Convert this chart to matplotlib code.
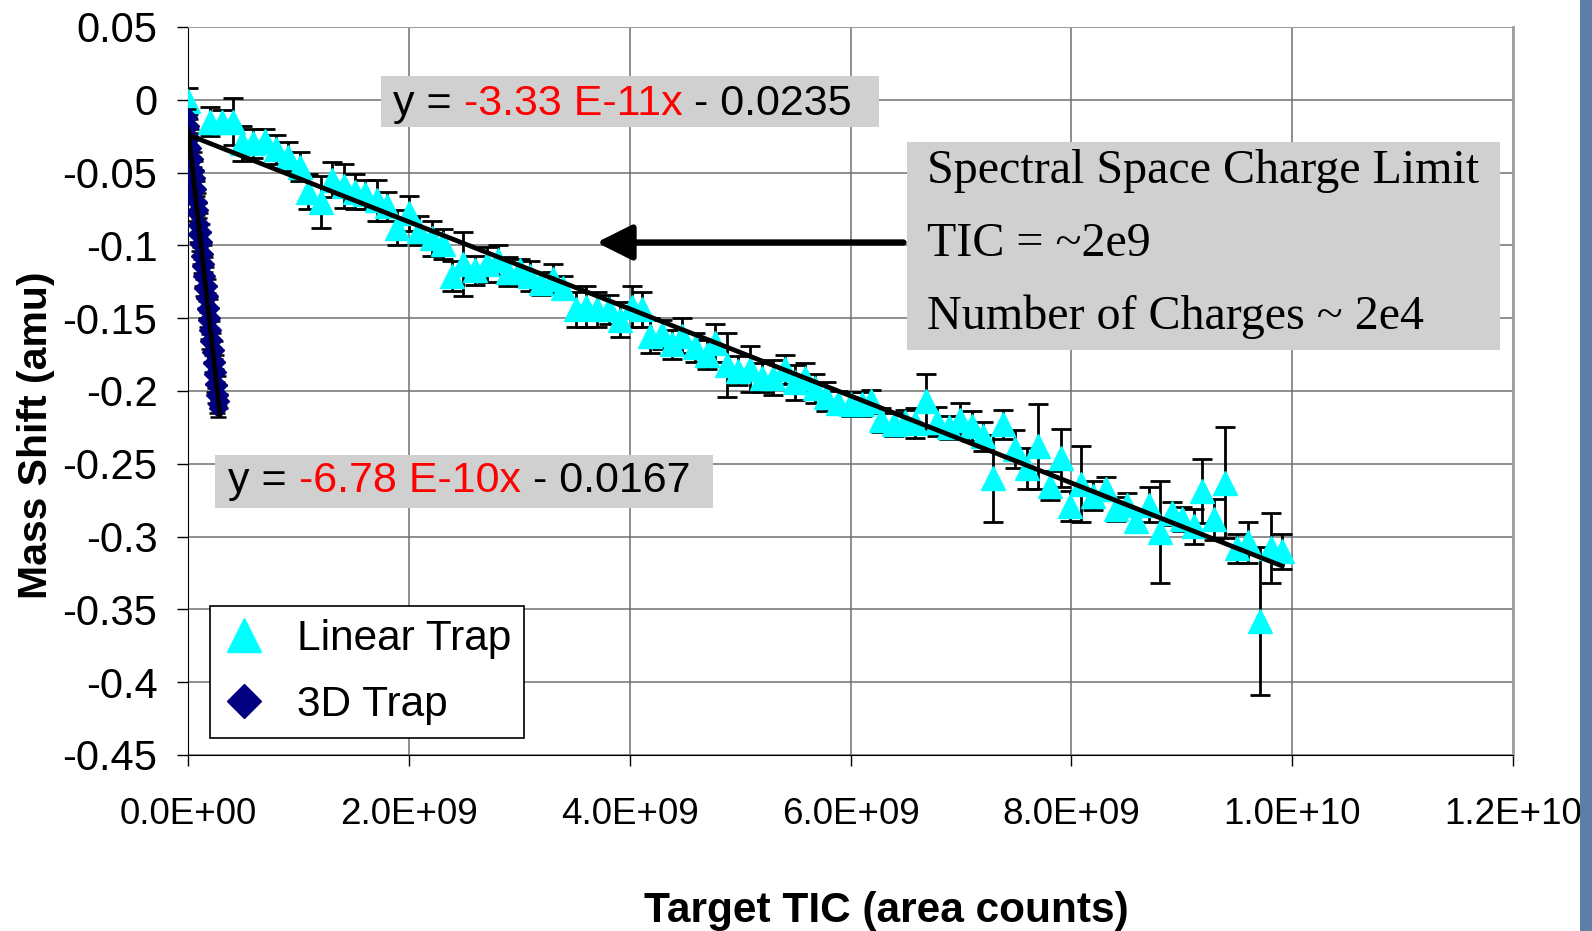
import numpy as np
import matplotlib
matplotlib.use("Agg")
import matplotlib.pyplot as plt
from matplotlib.patches import Rectangle
from matplotlib.lines import Line2D
from matplotlib.ticker import FuncFormatter, MultipleLocator

plt.rcParams['font.family'] = ['Liberation Sans', 'DejaVu Sans']

# Linear trap: TIC (units of 1e9), mass shift (amu), error bar half-width
lin_tic = [0.00, 0.20, 0.31, 0.41, 0.49, 0.59, 0.70, 0.80, 0.91, 1.01,
           1.09, 1.20, 1.30, 1.41, 1.51, 1.60, 1.71, 1.80, 1.89, 2.00,
           2.09, 2.21, 2.31, 2.39, 2.49, 2.60, 2.71, 2.81, 2.90, 3.01,
           3.10, 3.20, 3.31, 3.40, 3.51, 3.60, 3.70, 3.81, 3.91, 4.02,
           4.11, 4.18, 4.29, 4.38, 4.47, 4.59, 4.70, 4.77, 4.88, 4.98,
           5.09, 5.20, 5.30, 5.41, 5.50, 5.59, 5.68, 5.78, 5.89, 6.00,
           6.10, 6.19, 6.28, 6.39, 6.49, 6.58, 6.68, 6.78, 6.89, 6.99,
           7.10, 7.20, 7.29, 7.38, 7.49, 7.60, 7.70, 7.81, 7.91, 7.99,
           8.09, 8.20, 8.31, 8.40, 8.50, 8.59, 8.70, 8.80, 8.91, 9.00,
           9.11, 9.18, 9.29, 9.39, 9.50, 9.60, 9.71, 9.81, 9.91]
lin_shift = [-0.001, -0.015, -0.015, -0.015, -0.030, -0.030, -0.028, -0.034, -0.039, -0.046,
             -0.063, -0.070, -0.055, -0.059, -0.063, -0.065, -0.069, -0.073, -0.088, -0.078,
             -0.090, -0.095, -0.099, -0.121, -0.113, -0.117, -0.113, -0.110, -0.118, -0.117,
             -0.121, -0.126, -0.123, -0.129, -0.144, -0.142, -0.144, -0.144, -0.151, -0.142,
             -0.144, -0.162, -0.161, -0.168, -0.162, -0.170, -0.175, -0.167, -0.182, -0.186,
             -0.185, -0.191, -0.191, -0.185, -0.194, -0.191, -0.198, -0.204, -0.208, -0.209,
             -0.209, -0.207, -0.220, -0.223, -0.221, -0.222, -0.207, -0.221, -0.225, -0.220,
             -0.224, -0.231, -0.260, -0.223, -0.240, -0.253, -0.238, -0.265, -0.246, -0.279,
             -0.264, -0.272, -0.267, -0.281, -0.278, -0.289, -0.278, -0.297, -0.284, -0.288,
             -0.293, -0.269, -0.288, -0.263, -0.308, -0.304, -0.358, -0.308, -0.310]
lin_err = [0.009, 0.010, 0.008, 0.016, 0.012, 0.010, 0.008, 0.010, 0.010, 0.010,
           0.012, 0.018, 0.012, 0.015, 0.012, 0.010, 0.014, 0.010, 0.012, 0.012,
           0.010, 0.012, 0.010, 0.010, 0.022, 0.010, 0.012, 0.010, 0.010, 0.008,
           0.010, 0.008, 0.010, 0.008, 0.012, 0.014, 0.012, 0.010, 0.012, 0.014,
           0.012, 0.012, 0.010, 0.010, 0.012, 0.010, 0.010, 0.013, 0.022, 0.010,
           0.016, 0.010, 0.012, 0.010, 0.012, 0.010, 0.010, 0.010, 0.008, 0.008,
           0.008, 0.008, 0.008, 0.008, 0.008, 0.010, 0.019, 0.010, 0.008, 0.012,
           0.010, 0.010, 0.030, 0.010, 0.013, 0.014, 0.029, 0.010, 0.020, 0.010,
           0.026, 0.010, 0.008, 0.008, 0.008, 0.008, 0.012, 0.035, 0.008, 0.008,
           0.012, 0.022, 0.014, 0.038, 0.010, 0.014, 0.051, 0.024, 0.012]

# 3D trap
trap3d_tic = [0.000, 0.022, 0.006, 0.030, 0.014, 0.040, 0.025, 0.050, 0.035, 0.061,
              0.044, 0.070, 0.055, 0.081, 0.064, 0.091, 0.077, 0.103, 0.086, 0.112,
              0.098, 0.124, 0.107, 0.134, 0.119, 0.145, 0.129, 0.155, 0.140, 0.166,
              0.151, 0.177, 0.161, 0.187, 0.172, 0.198, 0.183, 0.209, 0.193, 0.219,
              0.205, 0.230, 0.215, 0.240, 0.226, 0.251, 0.237, 0.262, 0.248, 0.272,
              0.259, 0.281, 0.270, 0.290]
trap3d_shift = [-0.012, -0.018, -0.031, -0.026, -0.040, -0.033, -0.047, -0.041, -0.055, -0.049,
                -0.063, -0.054, -0.069, -0.061, -0.077, -0.070, -0.086, -0.076, -0.092, -0.085,
                -0.099, -0.091, -0.107, -0.098, -0.114, -0.106, -0.121, -0.113, -0.129, -0.121,
                -0.136, -0.128, -0.144, -0.135, -0.151, -0.143, -0.158, -0.150, -0.166, -0.158,
                -0.173, -0.165, -0.181, -0.172, -0.188, -0.180, -0.195, -0.187, -0.203, -0.196,
                -0.209, -0.203, -0.212, -0.207]
trap3d_err = [0.006, 0.005, 0.007, 0.006, 0.005, 0.007, 0.006, 0.005, 0.006, 0.007,
              0.005, 0.006, 0.007, 0.005, 0.006, 0.006, 0.007, 0.005, 0.006, 0.007,
              0.005, 0.006, 0.006, 0.007, 0.005, 0.006, 0.007, 0.005, 0.006, 0.006,
              0.007, 0.005, 0.006, 0.007, 0.005, 0.006, 0.006, 0.007, 0.005, 0.006,
              0.007, 0.005, 0.006, 0.006, 0.007, 0.005, 0.006, 0.007, 0.005, 0.006,
              0.006, 0.007, 0.006, 0.005]

x_ticks = [0, 2e9, 4e9, 6e9, 8e9, 10e9, 12e9]

lx = np.array(lin_tic) * 1e9
dx = np.array(trap3d_tic) * 1e9

fig = plt.figure(figsize=(15.92, 9.31), dpi=100)
ax = fig.add_axes([188 / 1592, 1 - 755 / 931, 1325 / 1592, 728 / 931])

ax.errorbar(lx, lin_shift, yerr=lin_err, fmt='^', color='#00ffff', ms=17,
            mec='#00ffff', ecolor='black', elinewidth=2.0, capsize=7, capthick=2.0,
            zorder=3)
ax.errorbar(dx, trap3d_shift, yerr=trap3d_err, fmt='D', color='#000080', ms=9.5,
            mec='#000080', ecolor='black', elinewidth=1.8, capsize=6, capthick=1.8,
            zorder=4)

# trendlines
p_lin = np.polyfit(lx, lin_shift, 1)
xs = np.array([lx.min(), lx.max()])
ax.plot(xs, np.polyval(p_lin, xs), color='black', lw=3.4, zorder=5)
p_3d = np.polyfit(dx, trap3d_shift, 1)
xs = np.array([dx.min(), dx.max()])
ax.plot(xs, np.polyval(p_3d, xs), color='black', lw=3.4, zorder=5)

ax.set_xlim(0, 1.2e10)
ax.set_ylim(-0.45, 0.05)
ax.set_xticks(x_ticks)
ax.xaxis.set_major_formatter(FuncFormatter(lambda v, p: '{:.1E}'.format(v)))
ax.yaxis.set_major_locator(MultipleLocator(0.05))
ax.yaxis.set_major_formatter(FuncFormatter(lambda v, p: '{:g}'.format(round(v, 2)) if abs(v) > 1e-9 else '0'))
ax.tick_params(axis='both', direction='out', length=8, width=1)
ax.tick_params(axis='x', pad=22, labelsize=26.5)
ax.tick_params(axis='y', pad=14, labelsize=30)
ax.grid(True, color='#707070', lw=1.1)
ax.set_axisbelow(True)
for s in ['left', 'bottom']:
    ax.spines[s].set_color('black')
ax.spines['top'].set_color('#a0a0a0')
ax.spines['right'].set_color('#a0a0a0')
ax.spines['right'].set_linewidth(2)

ax.set_xlabel('Target TIC (area counts)', fontsize=30.5, fontweight='bold')
ax.xaxis.set_label_coords(0.5268, -0.187)
ax.set_ylabel('Mass Shift (amu)', fontsize=29.5, fontweight='bold')
ax.yaxis.set_label_coords(-0.100, 0.439)


def eq_box(x0, x1, y0, y1, tx, ty, parts):
    ax.add_patch(Rectangle((x0, y0), x1 - x0, y1 - y0, transform=ax.transAxes,
                           facecolor='#d0d0d0', edgecolor='none', zorder=6))
    t = ax.text(tx, ty, parts[0][0], color=parts[0][1], fontsize=31,
                transform=ax.transAxes, va='center', zorder=7)
    for s, c in parts[1:]:
        t = ax.annotate(s, xycoords=t, xy=(1, 0), va='bottom', color=c,
                        fontsize=31, zorder=7)


eq_box(0.1457, 0.5215, 0.8626, 0.9327, 0.1547, 0.8936,
       [('y = ', 'black'), ('-3.33 E-11x', 'red'), (' - 0.0235', 'black')])
eq_box(0.0204, 0.3962, 0.3390, 0.4121, 0.0302, 0.376,
       [('y = ', 'black'), ('-6.78 E-10x', 'red'), (' - 0.0167', 'black')])

# spectral space charge limit box
ax.add_patch(Rectangle((0.5426, 0.5563), 0.9902 - 0.5426, 0.842 - 0.5563,
                       transform=ax.transAxes, facecolor='#d0d0d0',
                       edgecolor='none', zorder=6))
for txt, yy in [('Spectral Space Charge Limit', 0.8027),
                ('TIC = ~2e9', 0.7023),
                ('Number of Charges ~ 2e4', 0.6019)]:
    ax.text(0.5577, yy, txt, transform=ax.transAxes, fontsize=34.6,
            family=['Liberation Serif', 'DejaVu Serif'], va='center', zorder=7)

ax.annotate('', xy=(3.70e9, -0.098), xytext=(6.48e9, -0.098),
            arrowprops=dict(arrowstyle='-|>', color='black', lw=4.5,
                            mutation_scale=54, shrinkA=0, shrinkB=0),
            zorder=6)

handles = [Line2D([], [], ls='none', marker='^', ms=25, color='#00ffff'),
           Line2D([], [], ls='none', marker='D', ms=17, color='#000080')]
leg = ax.legend(handles, ['Linear Trap', '3D Trap'], loc='lower left',
                bbox_to_anchor=(0.0166, 0.0234), borderaxespad=0, fontsize=30.5,
                frameon=True, fancybox=False, edgecolor='black', framealpha=1,
                borderpad=0.3, labelspacing=0.62, handlelength=1.0,
                handletextpad=0.75)
leg.get_frame().set_linewidth(1.2)
leg.set_zorder(8)

fig.patches.append(Rectangle((1580 / 1592, 0), 12 / 1592, 1, transform=fig.transFigure,
                             facecolor='#5b7fa6', edgecolor='none'))

fig.savefig('out.png', dpi=100)
